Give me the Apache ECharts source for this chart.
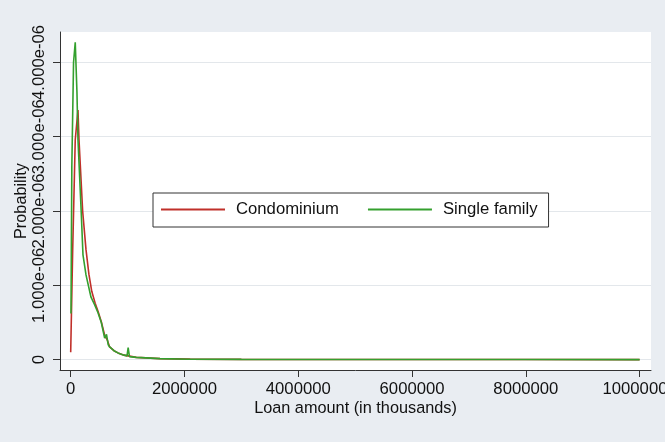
<!DOCTYPE html>
<html>
<head>
<meta charset="utf-8">
<script src="https://cdn.jsdelivr.net/npm/echarts@6/dist/echarts.min.js"></script>
<style>
html,body{margin:0;padding:0;background:#e9edf2;}
#chart{width:665px;height:442px;}
</style>
</head>
<body>
<div id="chart"></div>
<script>
// Loan amount (x) and density (y) for each series
var condoX = [0, 35000, 80000, 128000, 146000, 210000, 269000, 320000, 370000, 430000, 480000, 538000, 600000, 640000, 685000, 760000, 831000, 937000, 1010000, 1153000, 1570000, 2100000, 3000000, 4000000, 5000000, 6000000, 8000000, 10000000];
var condoY = [0.10e-6, 1.48e-6, 2.96e-6, 3.36e-6, 2.96e-6, 2.0e-6, 1.48e-6, 1.15e-6, 0.92e-6, 0.76e-6, 0.65e-6, 0.51e-6, 0.32e-6, 0.27e-6, 0.17e-6, 0.12e-6, 0.09e-6, 0.06e-6, 0.05e-6, 0.03e-6, 0.013e-6, 0.006e-6, 0.003e-6, 0.002e-6, 0.0015e-6, 0.001e-6, 0.0006e-6, 0.0003e-6];

var singleX = [5000, 20000, 50000, 80000, 110000, 128000, 184000, 216000, 269000, 357000, 420000, 480000, 538000, 597000, 629000, 660000, 685000, 760000, 831000, 937000, 990000, 1010000, 1033000, 1153000, 1570000, 2100000, 3000000, 4000000, 5000000, 6000000, 8000000, 10000000];
var singleY = [0.62e-6, 2.6e-6, 4.0e-6, 4.27e-6, 3.6e-6, 2.96e-6, 2.0e-6, 1.41e-6, 1.14e-6, 0.84e-6, 0.74e-6, 0.63e-6, 0.50e-6, 0.29e-6, 0.34e-6, 0.20e-6, 0.17e-6, 0.12e-6, 0.09e-6, 0.06e-6, 0.05e-6, 0.16e-6, 0.04e-6, 0.03e-6, 0.013e-6, 0.005e-6, 0.003e-6, 0.002e-6, 0.0015e-6, 0.001e-6, 0.0006e-6, 0.0003e-6];

var seriesNames = ['Condominium', 'Single family'];
var xTickValues = [0, 2000000, 4000000, 6000000, 8000000, 10000000];
var yTickValues = [0, 1e-6, 2e-6, 3e-6, 4e-6];
var yTickLabels = ['0', '1.000e-06', '2.000e-06', '3.000e-06', '4.000e-06'];

function pairs(xs, ys){ return xs.map(function(x,i){ return [x, ys[i]]; }); }
function yLabel(v){
  for (var i = 0; i < yTickValues.length; i++) {
    if (Math.abs(yTickValues[i] - v) < 1e-9) return yTickLabels[i];
  }
  return '';
}
// split the y labels over two overlaid axes so that ECharts does not drop overlapping ones
var yEven = yTickValues.filter(function(v, i){ return i % 2 === 0; });
var yOdd = yTickValues.filter(function(v, i){ return i % 2 === 1; });

var FONT = 'Liberation Sans, Arial, sans-serif';
var FS = 16.7;
var Y_MIN = -0.14e-6, Y_MAX = 4.41e-6;

function yLabelStyle(vals){
  return {customValues: vals, rotate: 90, margin: 12, fontFamily: FONT, fontSize: FS, color: '#111',
    hideOverlap: false, showMaxLabel: true, showMinLabel: true, formatter: yLabel};
}

var chart = echarts.init(document.getElementById('chart'), null, {renderer:'canvas'});
chart.setOption({
  backgroundColor: '#e9edf2',
  animation: false,
  textStyle: {fontFamily: FONT, color: '#111'},
  grid: {left: 60, top: 32, width: 591, height: 338, show: true, backgroundColor: '#ffffff', borderWidth: 0, containLabel: false, outerBoundsMode: 'none'},
  legend: {
    left: 153, top: 193,
    orient: 'horizontal',
    data: seriesNames,
    icon: 'rect', itemWidth: 64, itemHeight: 2, itemGap: 29,
    backgroundColor: '#ffffff', borderColor: '#333', borderWidth: 1,
    padding: [8, 11, 9, 8],
    textStyle: {fontFamily: FONT, fontSize: FS, color: '#111', padding: [0,0,0,6]}
  },
  xAxis: {
    type: 'value', min: -188000, max: 10200000,
    name: 'Loan amount (in thousands)', nameLocation: 'middle', nameGap: 31, nameMoveOverlap: false,
    nameTextStyle: {fontFamily: FONT, fontSize: 16.3, color: '#111'},
    axisLine: {show: true, onZero: false, lineStyle: {color: '#333', width: 1}},
    axisTick: {show: true, length: 7, lineStyle: {color: '#333'}, customValues: xTickValues},
    axisLabel: {customValues: xTickValues, margin: 11, fontFamily: FONT, fontSize: FS, color: '#111', hideOverlap: false, showMaxLabel: true, showMinLabel: true,
      formatter: function(v){ return String(Math.round(v)); }},
    splitLine: {show: false}
  },
  yAxis: [
    {
      type: 'value', min: Y_MIN, max: Y_MAX, position: 'left',
      name: 'Probability', nameLocation: 'middle', nameGap: 30, nameMoveOverlap: false,
      nameTextStyle: {fontFamily: FONT, fontSize: 16.3, color: '#111'},
      axisLine: {show: true, onZero: false, lineStyle: {color: '#333', width: 1}},
      axisTick: {show: true, length: 7, lineStyle: {color: '#333'}, customValues: yTickValues},
      axisLabel: yLabelStyle(yEven),
      splitLine: {show: true, customValues: yTickValues, lineStyle: {color: '#e3e7eb', width: 1.2}}
    },
    {
      type: 'value', min: Y_MIN, max: Y_MAX, position: 'left', offset: 0,
      axisLine: {show: false},
      axisTick: {show: false},
      axisLabel: yLabelStyle(yOdd),
      splitLine: {show: false}
    }
  ],
  series: [
    {
      name: seriesNames[0], type: 'line', data: pairs(condoX, condoY), yAxisIndex: 0,
      showSymbol: false, symbol: 'none', smooth: false,
      lineStyle: {color: '#c0302a', width: 1.6}, itemStyle: {color: '#c0302a'},
      z: 3
    },
    {
      name: seriesNames[1], type: 'line', data: pairs(singleX, singleY), yAxisIndex: 0,
      showSymbol: false, symbol: 'none', smooth: false,
      lineStyle: {color: '#34a02e', width: 1.6}, itemStyle: {color: '#34a02e'},
      z: 4
    }
  ]
});
</script>
</body>
</html>
